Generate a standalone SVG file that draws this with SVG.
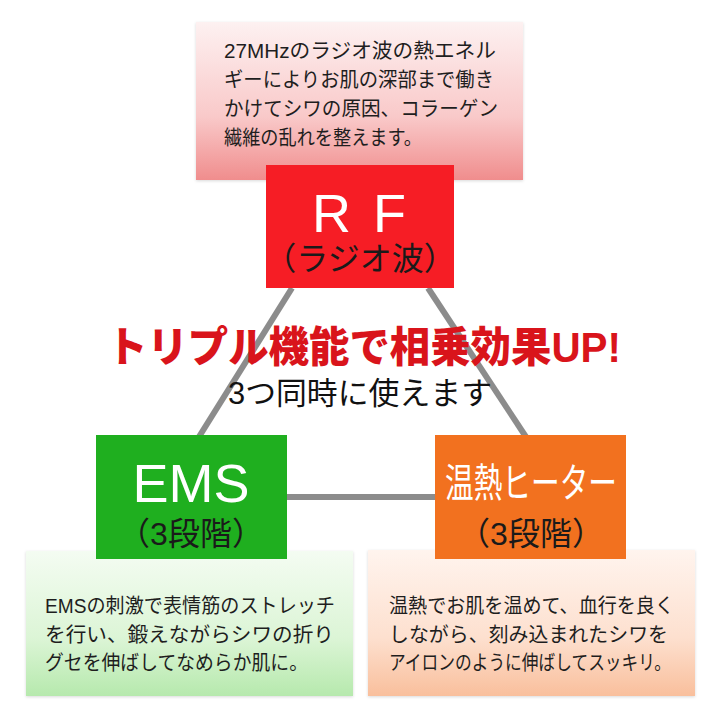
<svg xmlns="http://www.w3.org/2000/svg" width="720" height="720" viewBox="0 0 720 720">
<defs>
<linearGradient id="gPink" x1="0" y1="0" x2="0" y2="1"><stop offset="0" stop-color="#fdf1f1"/><stop offset="0.6" stop-color="#f9c9c9"/><stop offset="1" stop-color="#f08d8d"/></linearGradient>
<linearGradient id="gGreen" x1="0" y1="0" x2="0" y2="1"><stop offset="0" stop-color="#f4fcf2"/><stop offset="0.6" stop-color="#dcf5d6"/><stop offset="1" stop-color="#b6e9ad"/></linearGradient>
<linearGradient id="gPeach" x1="0" y1="0" x2="0" y2="1"><stop offset="0" stop-color="#fff4ee"/><stop offset="0.6" stop-color="#fde0cf"/><stop offset="1" stop-color="#f9bf9c"/></linearGradient>
<filter id="sh" x="-5%" y="-5%" width="110%" height="115%"><feDropShadow dx="0" dy="1" stdDeviation="1.5" flood-color="#000" flood-opacity="0.15"/></filter>
</defs>
<style>
text{font-family:"Liberation Sans","Noto Sans CJK JP",sans-serif}
.desc{font-size:20.5px;fill:#1e1e1e}
.big{font-size:54px;fill:#fff;text-anchor:middle}
.sub{font-size:32px;fill:#1a1a1a;text-anchor:middle}
.line{stroke:#8c8c8c;stroke-width:6;fill:none}
</style>
<rect width="720" height="720" fill="#fff"/>
<g id="connectors">
<line class="line" x1="292" y1="288" x2="197" y2="440"/>
<line class="line" x1="428" y1="288" x2="528" y2="440"/>
<line class="line" x1="287" y1="497" x2="436" y2="497"/>
</g>
<g id="rf-desc">
<rect x="196" y="22" width="327" height="158" fill="url(#gPink)" filter="url(#sh)"/>
<text class="desc" x="224" y="58" textLength="272" lengthAdjust="spacingAndGlyphs">27MHzのラジオ波の熱エネル</text>
<text class="desc" x="224" y="87" textLength="270" lengthAdjust="spacingAndGlyphs">ギーによりお肌の深部まで働き</text>
<text class="desc" x="224" y="116" textLength="274" lengthAdjust="spacingAndGlyphs">かけてシワの原因、コラーゲン</text>
<text class="desc" x="224" y="145" textLength="198" lengthAdjust="spacingAndGlyphs">繊維の乱れを整えます。</text>
</g>
<g id="rf">
<rect x="266" y="165" width="188" height="123" fill="#f61d25"/>
<text class="big" x="370" y="232" letter-spacing="22">RF</text>
<text class="sub" x="360" y="270">（ラジオ波）</text>
</g>
<g id="title">
<text x="107" y="362" font-size="42" font-weight="900" fill="#d9141b" textLength="514" lengthAdjust="spacingAndGlyphs">トリプル機能で相乗効果UP!</text>
<text x="228" y="404" font-size="31" fill="#111" textLength="264" lengthAdjust="spacingAndGlyphs">3つ同時に使えます</text>
</g>
<g id="ems-desc">
<rect x="26" y="551" width="327" height="145" fill="url(#gGreen)" filter="url(#sh)"/>
<text class="desc" x="45" y="613" textLength="290" lengthAdjust="spacingAndGlyphs">EMSの刺激で表情筋のストレッチ</text>
<text class="desc" x="45" y="642" textLength="289" lengthAdjust="spacingAndGlyphs">を行い、鍛えながらシワの折り</text>
<text class="desc" x="45" y="670" textLength="263" lengthAdjust="spacingAndGlyphs">グセを伸ばしてなめらか肌に。</text>
</g>
<g id="heat-desc">
<rect x="368" y="550" width="327" height="146" fill="url(#gPeach)" filter="url(#sh)"/>
<text class="desc" x="389" y="613" textLength="285" lengthAdjust="spacingAndGlyphs">温熱でお肌を温めて、血行を良く</text>
<text class="desc" x="389" y="642" textLength="279" lengthAdjust="spacingAndGlyphs">しながら、刻み込まれたシワを</text>
<text class="desc" x="389" y="670" font-size="18.5" textLength="282" lengthAdjust="spacingAndGlyphs">アイロンのように伸ばしてスッキリ。</text>
</g>
<g id="ems">
<rect x="96" y="435" width="191" height="124" fill="#1faf1f"/>
<text class="big" x="191" y="502">EMS</text>
<text class="sub" x="191" y="545">（3段階）</text>
</g>
<g id="heater">
<rect x="435" y="435" width="191" height="124" fill="#f2711f"/>
<text x="445" y="497" font-size="40" fill="#fff" textLength="172" lengthAdjust="spacingAndGlyphs">温熱ヒーター</text>
<text class="sub" x="531" y="545">（3段階）</text>
</g>
</svg>
